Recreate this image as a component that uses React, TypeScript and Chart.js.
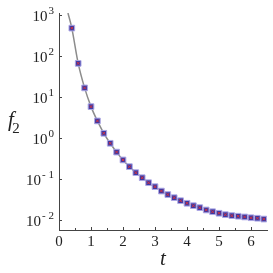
import React, { useEffect, useRef } from "react";
import { Chart, registerables } from "chart.js";

Chart.register(...registerables);

const tValues = [
  0.4, 0.6, 0.8, 1.0, 1.2, 1.4, 1.6, 1.8, 2.0, 2.2, 2.4, 2.6, 2.8, 3.0, 3.2, 3.4,
  3.6, 3.8, 4.0, 4.2, 4.4, 4.6, 4.8, 5.0, 5.2, 5.4, 5.6, 5.8, 6.0, 6.2, 6.4,
];
const f2Values = [
  490, 67, 16.8, 5.85, 2.61, 1.3, 0.74, 0.45, 0.289, 0.198, 0.141, 0.106, 0.08,
  0.064, 0.05, 0.041, 0.0344, 0.029, 0.0251, 0.0219, 0.0196, 0.0172, 0.0156,
  0.0143, 0.0132, 0.0125, 0.0121, 0.0116, 0.0111, 0.0108, 0.0103,
];
// curve end points (where the line leaves the frame)
const curveStartT = [0.28];
const curveStartF = [1150];
const curveEndT = [6.5];
const curveEndF = [0.0101];

const xTicks = [0, 1, 2, 3, 4, 5, 6];
const yTickExps = [-2, -1, 0, 1, 2, 3];

const X_MIN = 0;
const X_MAX = 6.5;
const Y_MIN = Math.pow(10, -2.255);
const Y_MAX = Math.pow(10, 3.06);
const SERIF = "\"Liberation Serif\", \"Times New Roman\", \"DejaVu Serif\", serif";

const decorPlugin = {
  id: "decor",
  afterDraw(chart: any) {
    const ctx = chart.ctx;
    const xs = chart.scales.x;
    const ys = chart.scales.y;
    const a = chart.chartArea;
    ctx.save();
    ctx.strokeStyle = "#444";
    ctx.lineWidth = 1;
    ctx.beginPath();
    for (const v of xTicks) {
      const px = Math.round(xs.getPixelForValue(v)) + 0.5;
      ctx.moveTo(px, a.bottom);
      ctx.lineTo(px, a.bottom - 3);
    }
    for (let v = 0.5; v < X_MAX; v += 1) {
      const px = Math.round(xs.getPixelForValue(v)) + 0.5;
      ctx.moveTo(px, a.bottom);
      ctx.lineTo(px, a.bottom - 2);
    }
    for (const e of yTickExps) {
      const py = Math.round(ys.getPixelForValue(Math.pow(10, e))) + 0.5;
      ctx.moveTo(a.left, py);
      ctx.lineTo(a.left + 3, py);
    }
    ctx.stroke();

    // y tick labels: "10" with a raised exponent
    ctx.fillStyle = "#222";
    ctx.textBaseline = "alphabetic";
    for (const e of yTickExps) {
      const py = ys.getPixelForValue(Math.pow(10, e));
      const expText = e < 0 ? "- " + Math.abs(e) : String(e);
      ctx.font = "11px " + SERIF;
      const ew = ctx.measureText(expText).width;
      const right = a.left - 5;
      ctx.textAlign = "right";
      ctx.fillText(expText, right, py - 1);
      ctx.font = "15px " + SERIF;
      ctx.fillText("10", right - ew - 1, py + 6);
    }

    ctx.textAlign = "center";
    ctx.textBaseline = "middle";
    ctx.font = "italic 21px " + SERIF;
    ctx.fillText("f", 11, 120);
    ctx.font = "15px " + SERIF;
    ctx.fillText("2", 16, 129);
    ctx.font = "italic 21px " + SERIF;
    ctx.fillText("t", (a.left + a.right) / 2, 259);
    ctx.restore();
  },
};

export default function App() {
  const ref = useRef<HTMLCanvasElement | null>(null);
  useEffect(() => {
    if (!ref.current) return;
    const points = tValues.map((t, i) => ({ x: t, y: f2Values[i] }));
    const curveT = [...curveStartT, ...tValues, ...curveEndT];
    const curveF = [...curveStartF, ...f2Values, ...curveEndF];
    const curve = curveT.map((t, i) => ({ x: t, y: curveF[i] }));
    const chart = new Chart(ref.current, {
      type: "scatter",
      data: {
        datasets: [
          {
            type: "line",
            data: curve,
            borderColor: "#8c8c8c",
            borderWidth: 1.5,
            pointRadius: 0,
            cubicInterpolationMode: "monotone",
            order: 3,
          } as any,
          {
            data: points,
            pointStyle: "rect",
            pointRadius: 4,
            backgroundColor: "#3a3aa6",
            borderColor: "#aea8e4",
            borderWidth: 1,
            order: 2,
          },
          {
            data: points,
            pointStyle: "crossRot",
            pointRadius: 2,
            borderColor: "#d8303c",
            borderWidth: 1,
            order: 1,
          },
        ],
      },
      options: {
        animation: false,
        responsive: false,
        maintainAspectRatio: false,
        layout: { padding: { top: 13, right: 6, left: 0, bottom: 0 } },
        plugins: {
          legend: { display: false },
          tooltip: { enabled: false },
        },
        scales: {
          x: {
            type: "linear",
            min: X_MIN,
            max: X_MAX,
            afterBuildTicks: (s: any) => {
              s.ticks = xTicks.map((v) => ({ value: v }));
            },
            afterFit: (s: any) => {
              s.height = 43;
            },
            ticks: {
              padding: 3,
              color: "#222",
              font: { family: SERIF, size: 15 },
              callback: (v: any) => String(v),
            },
            grid: { display: true, drawOnChartArea: false, drawTicks: false },
            border: { display: true, color: "#444", width: 1 },
          },
          y: {
            type: "logarithmic",
            min: Y_MIN,
            max: Y_MAX,
            afterBuildTicks: (s: any) => {
              s.ticks = yTickExps.map((e) => ({ value: Math.pow(10, e), major: true }));
            },
            afterFit: (s: any) => {
              s.width = 59;
            },
            ticks: {
              display: false,
            },
            grid: { display: true, drawOnChartArea: false, drawTicks: false },
            border: { display: true, color: "#444", width: 1 },
          },
        },
      },
      plugins: [decorPlugin],
    });
    return () => chart.destroy();
  }, []);
  return (
    <div style={{ position: "fixed", left: 0, top: 0, width: 273, height: 273, background: "#fff" }}>
      <canvas ref={ref} width={273} height={273} style={{ width: 273, height: 273 }} />
    </div>
  );
}
